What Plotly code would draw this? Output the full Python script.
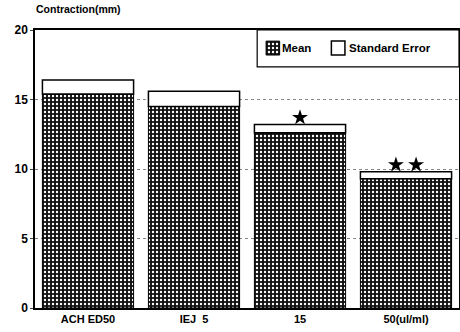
import plotly.graph_objects as go

categories = ["ACH ED50", "IEJ  5", "15", "50(ul/ml)"]
mean_vals = [15.4, 14.5, 12.6, 9.3]
se_vals = [1.0, 1.1, 0.6, 0.5]
star_counts = [0, 0, 1, 2]

x = list(range(len(categories)))
tops = [m + s for m, s in zip(mean_vals, se_vals)]

star_x, star_y = [], []
for i, n in enumerate(star_counts):
    for k in range(n):
        off = 0 if n == 1 else (k - (n - 1) / 2) * 0.19
        star_x.append(i + off)
        star_y.append(tops[i] + 0.5)

pattern = dict(shape=".", fgcolor="white", bgcolor="#111111", size=4, solidity=0.28)

fig = go.Figure()
fig.add_trace(go.Bar(
    x=x, y=mean_vals, name="Mean", width=0.86, showlegend=False,
    marker=dict(color="#111111", line=dict(color="black", width=1), pattern=pattern),
))
fig.add_trace(go.Bar(
    x=x, y=se_vals, base=mean_vals, name="Standard Error", width=0.86, showlegend=False,
    marker=dict(color="white", line=dict(color="black", width=1.5)),
))
fig.add_trace(go.Scatter(
    x=star_x, y=star_y, mode="markers", showlegend=False,
    marker=dict(symbol="star", size=12, color="black"),
))

# hand-drawn legend on an overlay axis spanning the plot area (0..1)
fig.add_trace(go.Bar(
    x=[0.561], y=[0.05], base=[0.91], width=0.032, showlegend=False,
    xaxis="x2", yaxis="y2", hoverinfo="skip",
    marker=dict(color="#111111", line=dict(color="black", width=1), pattern=pattern),
))
fig.add_trace(go.Bar(
    x=[0.715], y=[0.05], base=[0.91], width=0.032, showlegend=False,
    xaxis="x2", yaxis="y2", hoverinfo="skip",
    marker=dict(color="white", line=dict(color="black", width=1.5)),
))

fig.update_layout(
    width=460, height=332,
    template="none",
    barmode="overlay",
    margin=dict(l=35, r=1, t=30, b=24),
    paper_bgcolor="white", plot_bgcolor="white",
    font=dict(family="Liberation Sans", size=11, color="black", weight="bold"),
    showlegend=False,
    xaxis2=dict(overlaying="x", range=[0, 1], visible=False, fixedrange=True),
    yaxis2=dict(overlaying="y", range=[0, 1], visible=False, fixedrange=True),
    shapes=[dict(type="rect", xref="paper", yref="paper",
                 x0=0.524, x1=1.0, y0=0.867, y1=1.0,
                 line=dict(color="black", width=1.2), fillcolor="rgba(0,0,0,0)",
                 layer="above")],
    annotations=[
        dict(text="Contraction(mm)", xref="paper", yref="paper",
             x=-0.002, y=1.045, xanchor="left", yanchor="bottom",
             showarrow=False, font=dict(size=10.5, weight="bold")),
        dict(text="Mean", xref="paper", yref="paper", x=0.578, y=0.935,
             xanchor="left", yanchor="middle", showarrow=False,
             font=dict(size=11.5, weight="bold")),
        dict(text="Standard Error", xref="paper", yref="paper", x=0.736, y=0.935,
             xanchor="left", yanchor="middle", showarrow=False,
             font=dict(size=11.5, weight="bold")),
    ],
)
fig.update_layout(xaxis=dict(
    tickmode="array", tickvals=x, ticktext=categories, range=[-0.5, 3.5],
    showline=True, linecolor="black", linewidth=1.5, mirror=True,
    showgrid=False, ticks="", tickfont=dict(size=11, weight="bold"),
    automargin=False, zeroline=False,
))
fig.update_layout(yaxis=dict(
    range=[0, 20], tickvals=[0, 5, 10, 15, 20],
    showline=True, linecolor="black", linewidth=1.5, mirror=True,
    showgrid=True, gridcolor="#888888", griddash="dot", gridwidth=1,
    ticks="outside", ticklen=3, tickfont=dict(size=12, weight="bold"),
    zeroline=False, automargin=False,
))

fig.write_html("out.html", config={"displayModeBar": False},
               post_script="document.body.style.margin='0';")
